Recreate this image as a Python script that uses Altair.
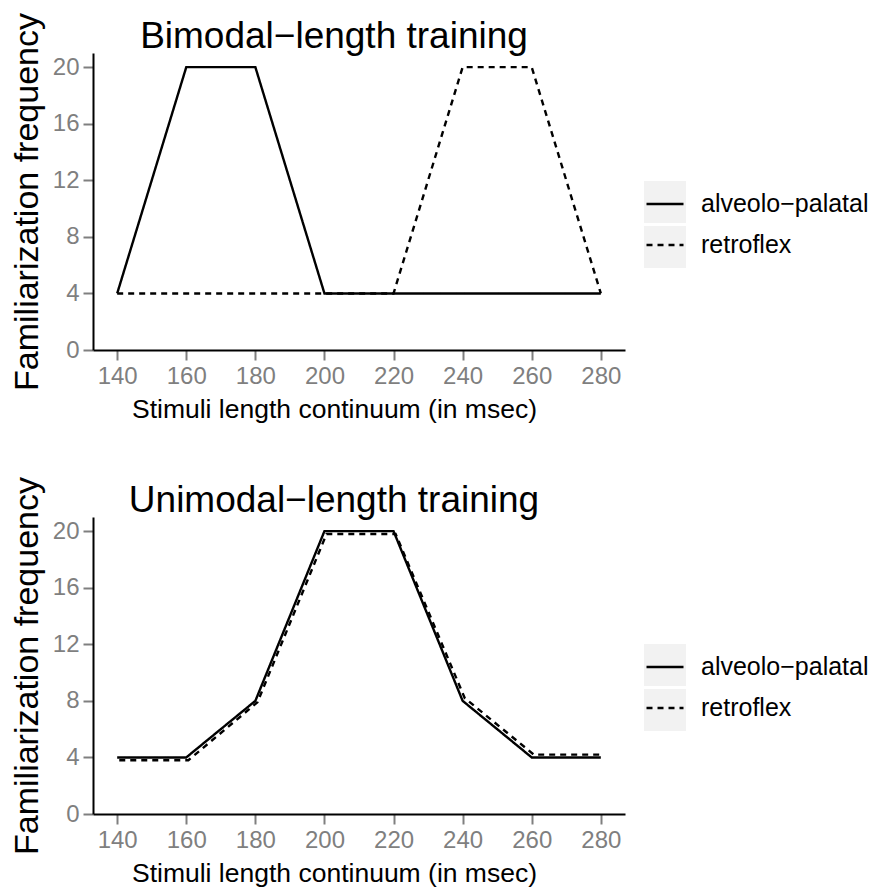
import altair as alt
import pandas as pd

x_vals = [140, 160, 180, 200, 220, 240, 260, 280]
series_names = ["alveolo\u2212palatal", "retroflex"]

bi_alveolo = [4, 20, 20, 4, 4, 4, 4, 4]
bi_retroflex = [4, 4, 4, 4, 4, 20, 20, 4]

uni_alveolo_x = [140, 160, 180, 200, 220, 240, 260, 280]
uni_alveolo = [4, 4, 8, 20, 20, 8, 4, 4]
uni_retroflex_x = [140.6, 160.6, 180.6, 200.6, 220.6, 240.6, 260.6, 280.6]
uni_retroflex = [3.8, 3.8, 7.9, 19.8, 19.8, 8.2, 4.2, 4.2]

titles = ["Bimodal\u2212length training", "Unimodal\u2212length training"]
x_ticks = [140, 160, 180, 200, 220, 240, 260, 280]
y_ticks = [0, 4, 8, 12, 16, 20]


def make_df(xa, ya, xr, yr):
    rows = []
    for xv, yv in zip(xa, ya):
        rows.append({"x": xv, "y": yv, "series": series_names[0], "series2": series_names[0]})
    for xv, yv in zip(xr, yr):
        rows.append({"x": xv, "y": yv, "series": series_names[1], "series2": series_names[1]})
    return pd.DataFrame(rows)


FONT = "Liberation Sans"


def panel(df, title, legend_y):
    xenc = alt.X(
        "x:Q",
        scale=alt.Scale(domain=[133, 287], nice=False, zero=False),
        axis=alt.Axis(values=x_ticks, title="Stimuli length continuum (in msec)",
                      titleX=241, titleAlign="center"),
    )
    yenc = alt.Y(
        "y:Q",
        scale=alt.Scale(domain=[0, 21], nice=False),
        axis=alt.Axis(values=y_ticks, title="Familiarization frequency"),
    )
    lines = alt.Chart(df).mark_line(color="black", strokeWidth=2.4).encode(
        x=xenc,
        y=yenc,
        strokeDash=alt.StrokeDash(
            "series:N",
            scale=alt.Scale(domain=series_names, range=[[1, 0], [6, 5]]),
            legend=alt.Legend(
                title=None,
                orient="none",
                legendX=552,
                legendY=legend_y + 3,
                symbolType="stroke",
                symbolSize=1369,
                symbolStrokeColor="black",
                symbolStrokeWidth=2.4,
                labelFontSize=25,
                labelFont=FONT,
                labelColor="black",
                labelOffset=16,
                labelLimit=400,
                rowPadding=8,
                zindex=2,
            ),
        ),
    )
    keys = alt.Chart(df).mark_point(shape="square", filled=True, opacity=0, size=1).encode(
        x=xenc,
        y=yenc,
        fill=alt.Fill(
            "series2:N",
            scale=alt.Scale(domain=series_names, range=["#f2f2f2", "#f2f2f2"]),
            legend=alt.Legend(
                title=None,
                orient="none",
                legendX=551,
                legendY=legend_y,
                symbolType="square",
                symbolSize=1764,
                symbolOpacity=1,
                symbolFillColor="#f2f2f2",
                symbolStrokeWidth=0,
                labelExpr="''",
                rowPadding=3,
                zindex=1,
            ),
        ),
    )
    return alt.layer(keys, lines).properties(
        width=532,
        height=297,
        title=alt.TitleParams(
            text=title, anchor="middle", dx=-25, fontSize=37, font=FONT,
            fontWeight="normal", color="black", offset=-43,
        ),
    ).resolve_scale(strokeDash="independent", fill="independent")


top = panel(make_df(x_vals, bi_alveolo, x_vals, bi_retroflex), titles[0], 128)
bottom = panel(make_df(uni_alveolo_x, uni_alveolo, uni_retroflex_x, uni_retroflex), titles[1], 127)

chart = alt.vconcat(top, bottom, spacing=53).resolve_scale(
    strokeDash="independent", fill="independent"
).configure(
    padding={"left": 2, "top": 4, "right": 0, "bottom": 0},
    background="white",
).configure_view(stroke=None).configure_axis(
    grid=False,
    domainColor="black",
    domainWidth=2,
    tickColor="#7f7f7f",
    tickWidth=2,
    tickSize=10,
    labelFont=FONT,
    labelFontSize=24,
    labelColor="#7f7f7f",
    labelPadding=4,
    titleFont=FONT,
    titleFontWeight="normal",
    titleColor="black",
).configure_axisX(
    titleFontSize=26.5, titlePadding=8, labelFlush=False,
).configure_axisY(
    titleFontSize=34, titlePadding=8,
)

chart.save("out.html", embed_options={"renderer": "svg", "actions": False})
